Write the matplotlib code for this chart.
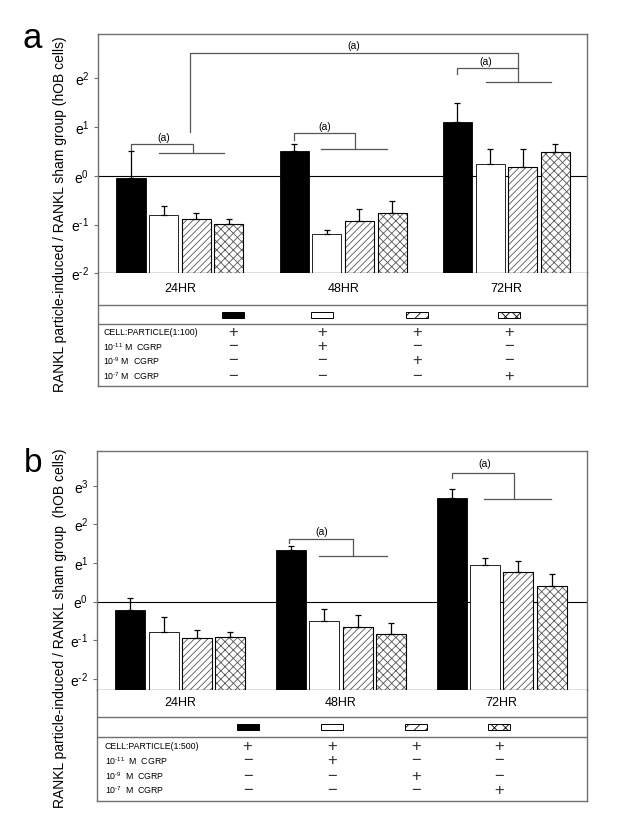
import numpy as np
import matplotlib.pyplot as plt
from matplotlib.patches import Rectangle

plt.rcParams['font.family'] = ['Liberation Sans', 'DejaVu Sans']
plt.rcParams['mathtext.fontset'] = 'custom'
plt.rcParams['mathtext.rm'] = 'Liberation Sans'
plt.rcParams['mathtext.it'] = 'Liberation Sans:italic'
plt.rcParams['mathtext.default'] = 'regular'
plt.rcParams['hatch.linewidth'] = 0.6

# data: natural log of RANKL ratio, per time point
# columns: particle only, +10^-11, +10^-9, +10^-7 M CGRP
times = ['24HR', '48HR', '72HR']

a_vals = [[-0.05, -0.805, -0.88, -0.99],
          [0.50, -1.195, -0.92, -0.76],
          [1.11, 0.23, 0.18, 0.48]]
a_err = [[0.56, 0.19, 0.12, 0.10],
         [0.16, 0.075, 0.23, 0.24],
         [0.39, 0.32, 0.37, 0.17]]

b_vals = [[-0.22, -0.78, -0.95, -0.92],
          [1.34, -0.51, -0.65, -0.85],
          [2.68, 0.95, 0.76, 0.41]]
b_err = [[0.32, 0.39, 0.21, 0.14],
         [0.11, 0.31, 0.30, 0.31],
         [0.24, 0.19, 0.29, 0.31]]

a_rows = ['CELL:PARTICLE(1:100)', '10$^{\\text{-}11}$ M  CGRP', '10$^{\\text{-}9}$ M  CGRP',
          '10$^{\\text{-}7}$ M  CGRP']
b_rows = ['CELL:PARTICLE(1:500)', '10$^{\\text{-}11}$  M  CGRP', '10$^{\\text{-}9}$  M  CGRP',
          '10$^{\\text{-}7}$  M  CGRP']
signs = [['+', '+', '+', '+'],
         ['\u2212', '+', '\u2212', '\u2212'],
         ['\u2212', '\u2212', '+', '\u2212'],
         ['\u2212', '\u2212', '\u2212', '+']]

# significance brackets (polylines in data coords) and "(a)" label spots
a_brackets = [([-0.3, -0.3, 0.081, 0.081], [0.52, 0.643, 0.643, 0.459]),
              ([-0.13, 0.27], [0.459, 0.459]),
              ([0.70, 0.70, 1.072, 1.072], [0.74, 0.869, 0.869, 0.553]),
              ([0.867, 1.269], [0.553, 0.553]),
              ([0.061, 0.061, 2.073, 2.073], [0.90, 2.508, 2.508, 1.926]),
              ([1.70, 1.70, 2.073], [2.078, 2.213, 2.213]),
              ([1.875, 2.273], [1.926, 1.926])]
a_marks = [(-0.10, 0.77), (0.888, 0.99), (1.875, 2.32), (1.062, 2.66)]

b_brackets = [([0.674, 0.674, 1.072, 1.072], [1.51, 1.617, 1.617, 1.184]),
              ([0.865, 1.288], [1.184, 1.184]),
              ([1.688, 1.688, 2.078, 2.078], [3.20, 3.33, 3.33, 2.65]),
              ([1.889, 2.306], [2.65, 2.65])]
b_marks = [(0.88, 1.81), (1.895, 3.57)]

W, H = 626, 840
GREY = '#707070'
fig = plt.figure(figsize=(W / 100, H / 100), dpi=100)


def px_axes(x0, y0, x1, y1):
    return fig.add_axes([x0 / W, 1 - y1 / H, (x1 - x0) / W, (y1 - y0) / H])


styles = [dict(color='black', edgecolor='black', hatch=None),
          dict(color='white', edgecolor='black', hatch=None),
          dict(color='white', edgecolor='#555555', hatch='/////'),
          dict(color='white', edgecolor='#555555', hatch='xxxx')]
swatch_hatch = [None, None, '///', 'xxx']


def tick_text(t):
    if t < 0:
        return 'e$^{\\text{-}%d}$' % (-t)
    return 'e$^{%d}$' % t


def bar_panel(ax, vals, err, ylim, xlim, ticks, pitch, width, brackets, marks):
    vals = np.array(vals)
    err = np.array(err)
    x = np.arange(len(times))
    ybot = ylim[0]
    for j in range(4):
        xs = x + (j - 1.5) * pitch
        st = styles[j]
        ax.bar(xs, vals[:, j] - ybot, bottom=ybot, width=width, color=st['color'],
               edgecolor=st['edgecolor'], hatch=st['hatch'], linewidth=0.6, zorder=2)
        if st['hatch']:
            ax.bar(xs, vals[:, j] - ybot, bottom=ybot, width=width, facecolor='none',
                   edgecolor='black', linewidth=0.8, zorder=3)
        ax.errorbar(xs, vals[:, j], yerr=[np.zeros(len(x)), err[:, j]], fmt='none',
                    ecolor='black', elinewidth=0.9, capsize=2, capthick=0.9, zorder=4)
    ax.axhline(0, color='black', lw=0.8, zorder=1)
    for bx, by in brackets:
        ax.plot(bx, by, color='#555555', lw=0.9, zorder=5)
    for mx, my in marks:
        ax.text(mx, my, '(a)', fontsize=7.5, ha='center', va='center')
    ax.set_xlim(*xlim)
    ax.set_ylim(*ylim)
    ax.set_xticks([])
    ax.set_yticks(ticks)
    ax.set_yticklabels([tick_text(t) for t in ticks])
    ax.tick_params(axis='y', direction='out', length=3, width=0.8, color=GREY,
                   labelsize=10, pad=3)
    for s in ['left', 'top', 'right']:
        ax.spines[s].set_color(GREY)
        ax.spines[s].set_linewidth(1.0)
    ax.spines['bottom'].set_color('black')
    ax.spines['bottom'].set_linewidth(0.9)


def table_panel(tax, xlim, ybounds, cat_y, seps, leg_y, rows_y, labels, label_x, cols):
    tax.set_xlim(0, 1)
    tax.set_ylim(*ybounds)
    tax.set_xticks([])
    tax.set_yticks([])
    tax.spines['top'].set_visible(False)
    for s in ['left', 'right', 'bottom']:
        tax.spines[s].set_color(GREY)
        tax.spines[s].set_linewidth(1.0)
    for i, t in enumerate(times):
        fx = (i - xlim[0]) / (xlim[1] - xlim[0])
        tax.text(fx, cat_y, t, fontsize=9, ha='center', va='center')
    for sy in seps:
        tax.axhline(sy, color=GREY, lw=1.0)
    for j, cx in enumerate(cols):
        st = styles[j]
        tax.add_patch(Rectangle((cx - 0.0225, leg_y - 3), 0.045, 6, facecolor=st['color'],
                                edgecolor='black', hatch=swatch_hatch[j], linewidth=0.7))
    for r, lab in enumerate(labels):
        tax.text(label_x, rows_y[r], lab, fontsize=6.3, ha='left', va='center')
        for j, cx in enumerate(cols):
            tax.text(cx, rows_y[r], signs[r][j], fontsize=12, ha='center', va='center',
                     color='#333333')


# panel a
xa = (-0.504, 2.496)
ax_a = px_axes(97.7, 34, 587.3, 273.3)
bar_panel(ax_a, a_vals, a_err, (-2, 2.904), xa, [-2, -1, 0, 1, 2], 0.2, 0.178,
          a_brackets, a_marks)
tab_a = px_axes(97.7, 273.3, 587.3, 386)
table_panel(tab_a, xa, (386, 273.3), 289, [305, 324.3], 314.7,
            [332.7, 346.7, 361, 376], a_rows, 0.0115, [0.276, 0.459, 0.652, 0.840])

# panel b
xb = (-0.52, 2.528)
ax_b = px_axes(96.7, 451, 586.7, 690)
bar_panel(ax_b, b_vals, b_err, (-2.288, 3.904), xb, [-2, -1, 0, 1, 2, 3], 0.207, 0.187,
          b_brackets, b_marks)
tab_b = px_axes(96.7, 690, 586.7, 800.7)
table_panel(tab_b, xb, (800.7, 690), 703.3, [716.7, 736.7], 726.7,
            [746.7, 761, 776, 790], b_rows, 0.0169, [0.308, 0.481, 0.652, 0.821])

fig.text(60 / W, 1 - 214 / H, 'RANKL particle-induced / RANKL sham group (hOB cells)',
         rotation=90, fontsize=10, ha='center', va='center')
fig.text(60 / W, 1 - 628 / H, 'RANKL particle-induced / RANKL sham group  (hOB cells)',
         rotation=90, fontsize=10, ha='center', va='center')
fig.text(22 / W, 1 - 48 / H, 'a', fontsize=25, ha='left', va='baseline')
fig.text(24 / W, 1 - 471.7 / H, 'b', fontsize=24, ha='left', va='baseline')

fig.savefig('out.png', dpi=100)
